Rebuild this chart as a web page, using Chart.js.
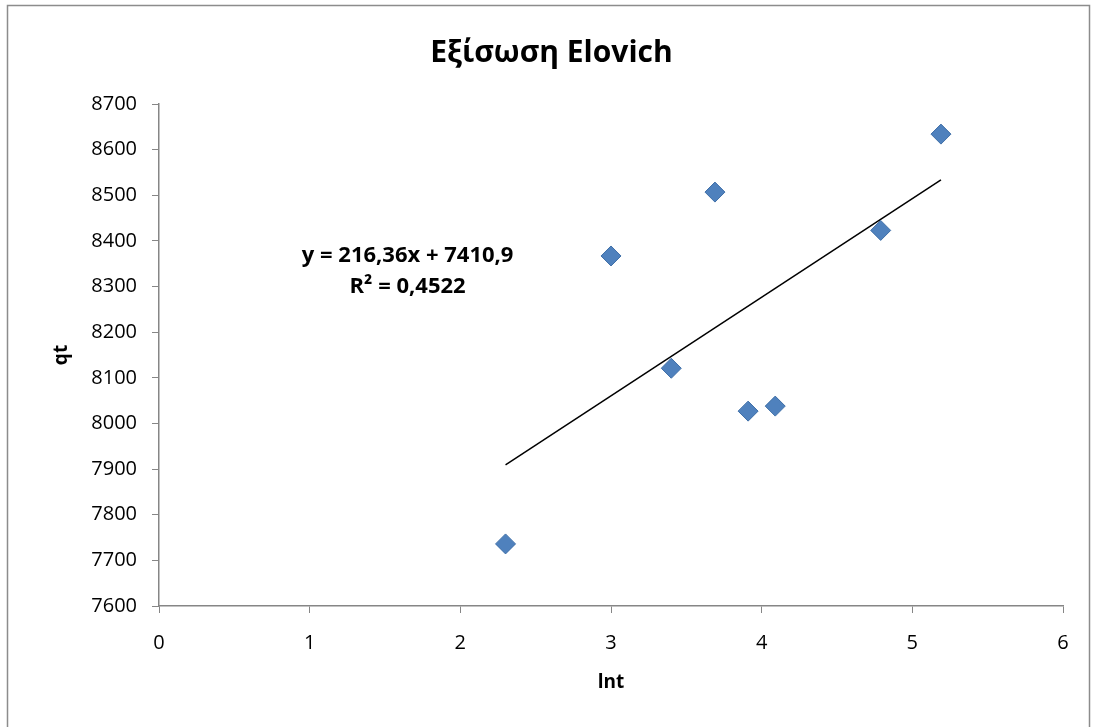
<!DOCTYPE html>
<html>
<head>
<meta charset="utf-8">
<script src="https://cdn.jsdelivr.net/npm/chart.js@4"></script>
<style>
  html, body { margin: 0; padding: 0; background: #fff; }
  #wrap { width: 1093px; height: 727px; }
</style>
</head>
<body>
<div id="wrap"><canvas id="myChart" width="1093" height="727"></canvas></div>
<script>
// measured data (lnt, qt)
var lnt = [2.30, 3.00, 3.40, 3.69, 3.91, 4.09, 4.79, 5.19];
var qt = [7736, 8367, 8121, 8507, 8027, 8038, 8423, 8634];

// linear trendline end points
var trendX = [2.30, 5.19];
var trendY = [7909, 8534];

var xTicks = [0, 1, 2, 3, 4, 5, 6];
var yTicks = [7600, 7700, 7800, 7900, 8000, 8100, 8200, 8300, 8400, 8500, 8600, 8700];

var eqLines = ['y = 216,36x + 7410,9', 'R\u00b2 = 0,4522'];
var eqPos = { x: 1.65, y: [8367, 8300] };

var FONT = "'Open Sans', 'Noto Sans', sans-serif";
var AXIS = '#868686';

var frame = {
    id: 'frame',
    beforeDraw: function (chart) {
        var c = chart.ctx;
        c.save();
        c.fillStyle = '#fff';
        c.fillRect(0, 0, chart.width, chart.height);
        c.strokeStyle = '#8c8c8c';
        c.lineWidth = 1.5;
        c.strokeRect(7.5, 5.5, 1082, 740);
        c.restore();
    },
    afterDatasetsDraw: function (chart) {
        var c = chart.ctx;
        var xs = chart.scales.x, ys = chart.scales.y;
        c.save();
        c.fillStyle = '#000';
        c.font = 'bold 22px ' + FONT;
        c.textAlign = 'center';
        c.textBaseline = 'middle';
        for (var i = 0; i < eqLines.length; i++) {
            c.fillText(eqLines[i], xs.getPixelForValue(eqPos.x), ys.getPixelForValue(eqPos.y[i]));
        }
        c.restore();
    }
};

var ctx = document.getElementById('myChart').getContext('2d');
var myChart = new Chart(ctx, {
    type: 'scatter',
    data: {
        datasets: [{
            label: 'qt',
            data: lnt.map(function (v, i) { return { x: v, y: qt[i] }; }),
            pointStyle: 'rectRot',
            pointRadius: 10,
            pointHoverRadius: 10,
            backgroundColor: '#4F81BD',
            borderColor: '#3F6FA8',
            borderWidth: 1,
            order: 1
        },
        {
            label: 'trend',
            type: 'line',
            data: trendX.map(function (v, i) { return { x: v, y: trendY[i] }; }),
            borderColor: '#000',
            borderWidth: 1.5,
            pointRadius: 0,
            fill: false,
            order: 2
        }]
    },
    plugins: [frame],
    options: {
        responsive: false,
        animation: false,
        layout: {
            padding: { left: 40, right: 30, top: 35, bottom: 20 }
        },
        plugins: {
            legend: { display: false },
            tooltip: { enabled: false },
            title: {
                display: true,
                text: 'Εξίσωση Elovich',
                color: '#000',
                font: { family: FONT, size: 30, weight: 'bold', lineHeight: 1.2 },
                padding: { top: 0, bottom: 33 }
            }
        },
        scales: {
            x: {
                type: 'linear',
                min: 0,
                max: 6,
                afterBuildTicks: function (s) { s.ticks = xTicks.map(function (v) { return { value: v }; }); },
                afterFit: function (s) { s.height = 727 - 606 - 20; },
                grid: { display: true, drawOnChartArea: false, drawTicks: true, tickLength: 7, color: AXIS },
                border: { display: true, color: AXIS, width: 1.5 },
                ticks: {
                    color: '#000', padding: 18, font: { family: FONT, size: 20 },
                    callback: function (v) { return String(v); }
                },
                title: {
                    display: true,
                    text: 'lnt',
                    color: '#000',
                    font: { family: FONT, size: 19, weight: 'bold', lineHeight: 1.2 },
                    padding: { top: 0, bottom: 13 }
                }
            },
            y: {
                type: 'linear',
                min: 7600,
                max: 8700,
                afterBuildTicks: function (s) { s.ticks = yTicks.map(function (v) { return { value: v }; }); },
                afterFit: function (s) { s.width = 159 - 40; },
                grid: { display: true, drawOnChartArea: false, drawTicks: true, tickLength: 7, color: AXIS },
                border: { display: true, color: AXIS, width: 1.5 },
                ticks: {
                    color: '#000', padding: 15, font: { family: FONT, size: 20 },
                    callback: function (v) { return String(v); }
                },
                title: {
                    display: true,
                    text: 'qt',
                    color: '#000',
                    font: { family: FONT, size: 19, weight: 'bold', lineHeight: 1.2 },
                    padding: { top: 10, bottom: 0 }
                }
            }
        }
    }
});
</script>
</body>
</html>
